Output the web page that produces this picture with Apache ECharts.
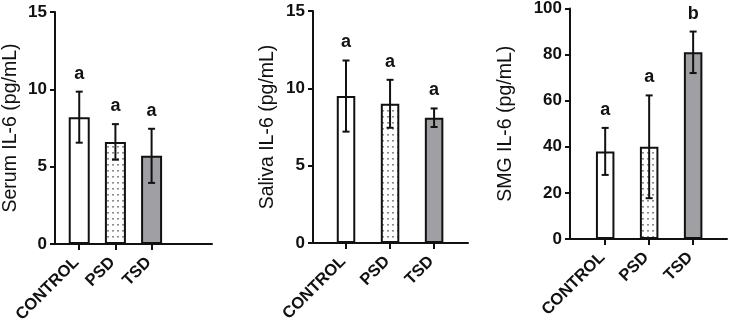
<!DOCTYPE html>
<html>
<head>
<meta charset="utf-8">
<script src="https://cdn.jsdelivr.net/npm/echarts@6/dist/echarts.min.js"></script>
<style>
  html, body { margin: 0; padding: 0; background: #fff; }
  #chart { width: 730px; height: 330px; }
</style>
</head>
<body>
<div id="chart"></div>
<script>
  // group names on every x axis
  const groups = ['CONTROL', 'PSD', 'TSD'];

  // serum IL-6 (pg/mL)
  const serumMean = [8.2, 6.6, 5.7];
  const serumSd = [1.65, 1.15, 1.75];
  const serumLetters = ['a', 'a', 'a'];

  // saliva IL-6 (pg/mL)
  const salivaMean = [9.5, 9.0, 8.1];
  const salivaSd = [2.3, 1.55, 0.6];
  const salivaLetters = ['a', 'a', 'a'];

  // SMG IL-6 (pg/mL)
  const smgMean = [38, 40, 81];
  const smgSd = [10.2, 22.3, 9];
  const smgLetters = ['a', 'a', 'b'];

  const FONT = '"Liberation Sans", Arial, sans-serif';
  const INK = '#111';

  // dotted fill for the PSD bars
  function dotPattern() {
    let c = document.createElement('canvas');
    c.width = 5;
    c.height = 6;
    let ctx = c.getContext('2d');
    ctx.fillStyle = '#fff';
    ctx.fillRect(0, 0, 5, 6);
    ctx.fillStyle = '#8c8c8c';
    ctx.fillRect(2, 2, 2, 1.6);
    return c;
  }
  const fills = ['#ffffff', { image: dotPattern(), repeat: 'repeat' }, '#a0a0a4'];

  const panels = [
    { name: 'Serum IL-6 (pg/mL)', mean: serumMean, sd: serumSd, letters: serumLetters,
      grid: { left: 55, right: 518, top: 12, bottom: 86 }, xMin: -0.67, xMax: 3.67,
      yMax: 15, yInterval: 5, barWidth: 21, nameGap: 34 },
    { name: 'Saliva IL-6 (pg/mL)', mean: salivaMean, sd: salivaSd, letters: salivaLetters,
      grid: { left: 313, right: 262, top: 11, bottom: 87 }, xMin: -0.75, xMax: 2.77,
      yMax: 15, yInterval: 5, barWidth: 18.5, nameGap: 35 },
    { name: 'SMG IL-6 (pg/mL)', mean: smgMean, sd: smgSd, letters: smgLetters,
      grid: { left: 570, right: 3, top: 6, bottom: 91 }, xMin: -0.8, xMax: 2.77,
      yMax: 100, yInterval: 20, barWidth: 18.5, nameGap: 54 }
  ];

  function makeErrRenderer(letters) {
    return function (params, api) {
      let x = api.value(0);
      let top = api.coord([x, api.value(2)]);
      let bot = api.coord([x, api.value(1)]);
      let cap = 3.5;
      let st = { stroke: INK, lineWidth: 2 };
      return {
        type: 'group',
        children: [
          { type: 'line', shape: { x1: top[0], y1: top[1], x2: bot[0], y2: bot[1] }, style: st },
          { type: 'line', shape: { x1: top[0] - cap, y1: top[1], x2: top[0] + cap, y2: top[1] }, style: st },
          { type: 'line', shape: { x1: bot[0] - cap, y1: bot[1], x2: bot[0] + cap, y2: bot[1] }, style: st },
          { type: 'text', style: { text: letters[params.dataIndex], x: top[0], y: top[1] - 18,
              textAlign: 'center', textVerticalAlign: 'middle', font: 'bold 18px ' + FONT, fill: INK } }
        ]
      };
    };
  }

  let grids = [], xAxes = [], yAxes = [], series = [];
  panels.forEach(function (p, i) {
    grids.push(Object.assign({ containLabel: false }, p.grid));
    xAxes.push({
      type: 'value', gridIndex: i, min: p.xMin, max: p.xMax,
      axisLine: { show: true, onZero: false, lineStyle: { color: INK, width: 2 } },
      axisTick: { show: true, customValues: [0, 1, 2], length: 6, lineStyle: { color: INK, width: 2 } },
      axisLabel: { customValues: [0, 1, 2], rotate: 45, margin: 13, padding: [0, 4, 0, 0], color: INK,
        fontFamily: FONT, fontWeight: 'bold', fontSize: 16.5,
        formatter: function (v) { return groups[Math.round(v)]; } },
      splitLine: { show: false }
    });
    yAxes.push({
      type: 'value', gridIndex: i, min: 0, max: p.yMax, interval: p.yInterval,
      name: p.name, nameLocation: 'middle', nameGap: p.nameGap, nameRotate: 90,
      nameTextStyle: { fontFamily: FONT, fontSize: 19.5, color: INK },
      axisLine: { show: true, onZero: false, lineStyle: { color: INK, width: 2 } },
      axisTick: { show: true, length: 5, lineStyle: { color: INK, width: 2 } },
      axisLabel: { margin: 8, color: INK, fontFamily: FONT, fontWeight: 'bold', fontSize: 17 },
      splitLine: { show: false }
    });
    series.push({
      type: 'bar', xAxisIndex: i, yAxisIndex: i, barWidth: p.barWidth,
      data: p.mean.map(function (m, k) {
        return { value: [k, m], itemStyle: { color: fills[k], borderColor: INK, borderWidth: 2 } };
      }),
      silent: true, z: 2
    });
    series.push({
      type: 'custom', xAxisIndex: i, yAxisIndex: i, clip: false, z: 3, silent: true,
      renderItem: makeErrRenderer(p.letters),
      data: p.mean.map(function (m, k) { return [k, m - p.sd[k], m + p.sd[k]]; })
    });
  });

  let myChart = echarts.init(document.getElementById('chart'));
  myChart.setOption({
    animation: false,
    grid: grids,
    xAxis: xAxes,
    yAxis: yAxes,
    series: series
  });
</script>
</body>
</html>
